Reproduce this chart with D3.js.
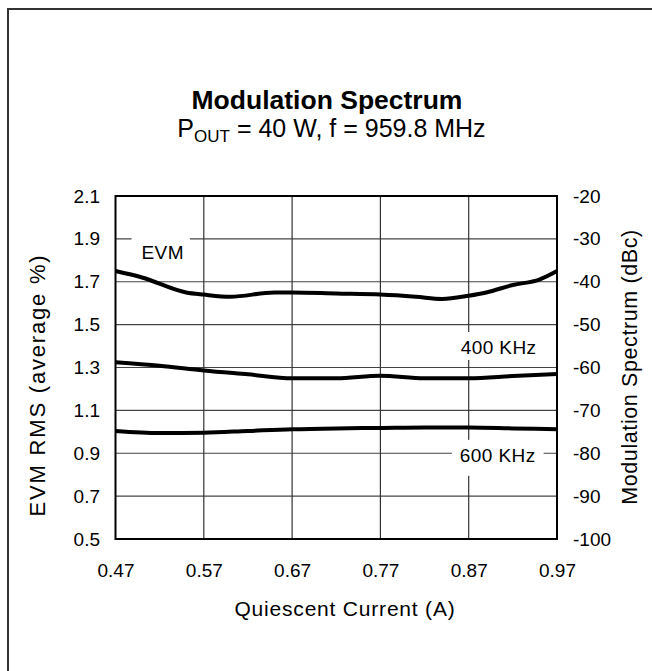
<!DOCTYPE html>
<html>
<head>
<meta charset="utf-8">
<script src="https://cdn.jsdelivr.net/npm/d3@7"></script>
<style>
  body { margin: 0; background: #fff; }
  text { font-family: "Liberation Sans", Arial, sans-serif; fill: #000; }
</style>
</head>
<body>
<script>
// values
var evmCurrent = [0.47, 0.50, 0.55, 0.57, 0.60, 0.65, 0.67, 0.72, 0.77, 0.81, 0.84, 0.87, 0.89, 0.92, 0.95, 0.97];
var evmValues = [1.75, 1.72, 1.65, 1.64, 1.63, 1.65, 1.65, 1.645, 1.64, 1.63, 1.62, 1.635, 1.65, 1.685, 1.71, 1.75];
var specCurrent = [0.47, 0.52, 0.57, 0.62, 0.67, 0.72, 0.77, 0.82, 0.87, 0.92, 0.97];
var spec400 = [-58.8, -59.6, -60.7, -61.6, -62.5, -62.5, -61.9, -62.5, -62.5, -62.0, -61.5];
var spec600 = [-74.8, -75.3, -75.2, -74.8, -74.4, -74.2, -74.1, -74.0, -74.0, -74.2, -74.4];
var xTicks = [0.47, 0.57, 0.67, 0.77, 0.87, 0.97];
var leftTicks = [0.5, 0.7, 0.9, 1.1, 1.3, 1.5, 1.7, 1.9, 2.1];
var rightTicks = [-100, -90, -80, -70, -60, -50, -40, -30, -20];

var width = 652,
    height = 671;

var margin = {top: 196, right: 95, bottom: 132, left: 115.5};

var svg = d3.select("body")
    .append("svg")
    .attr("width", width)
    .attr("height", height);

svg.append("rect")
    .attr("width", width)
    .attr("height", height)
    .attr("fill", "#fff");

// outer frame (right and bottom edges fall outside the picture)
svg.append("rect")
    .attr("x", 8)
    .attr("y", 9)
    .attr("width", 700)
    .attr("height", 700)
    .attr("fill", "none")
    .attr("stroke", "#333")
    .attr("stroke-width", 2);

var x = d3.scaleLinear().domain([0.47, 0.97]).range([margin.left, width - margin.right]);
var yL = d3.scaleLinear().domain([0.5, 2.1]).range([height - margin.bottom, margin.top]);
var yR = d3.scaleLinear().domain([-100, -20]).range([height - margin.bottom, margin.top]);

var g = svg.append("g");

// grid
g.selectAll(".hgrid")
    .data(leftTicks.slice(1, -1))
    .enter().append("line")
    .attr("x1", x.range()[0]).attr("x2", x.range()[1])
    .attr("y1", d => yL(d)).attr("y2", d => yL(d))
    .attr("stroke", "#444")
    .attr("stroke-width", 1.2);

g.selectAll(".vgrid")
    .data(xTicks.slice(1, -1))
    .enter().append("line")
    .attr("x1", d => x(d)).attr("x2", d => x(d))
    .attr("y1", yL.range()[0]).attr("y2", yL.range()[1])
    .attr("stroke", "#333")
    .attr("stroke-width", 1.2);

// labels inside the plot, with the grid cleared behind them
var labels = [
    {text: "EVM", x: 0.4995, v: 1.806, scale: yL, pad: [10, 6, 22, 3]},
    {text: "400 KHz", x: 0.861, v: -56.85, scale: yR, pad: [6, 8, 22, 6]},
    {text: "600 KHz", x: 0.860, v: -82.0, scale: yR, pad: [8, 8, 22, 14]}
];

labels.forEach(function (l) {
    var px = x(l.x), py = l.scale(l.v);
    var t = g.append("text")
        .attr("x", px)
        .attr("y", py)
        .style("font-size", "19px")
        .style("letter-spacing", "0.4px")
        .text(l.text);
    var w = t.node().getComputedTextLength();
    g.insert("rect", "text")
        .attr("x", px - l.pad[0])
        .attr("y", py - l.pad[2])
        .attr("width", w + l.pad[0] + l.pad[1])
        .attr("height", l.pad[2] + l.pad[3])
        .attr("fill", "#fff");
});

// plot border
g.append("rect")
    .attr("x", x.range()[0])
    .attr("y", yL.range()[1])
    .attr("width", x.range()[1] - x.range()[0])
    .attr("height", yL.range()[0] - yL.range()[1])
    .attr("fill", "none")
    .attr("stroke", "#000")
    .attr("stroke-width", 2);

// curves
var line = d3.line().curve(d3.curveMonotoneX);

g.append("path")
    .attr("d", line(evmCurrent.map((c, i) => [x(c), yL(evmValues[i])])))
    .attr("fill", "none").attr("stroke", "#000").attr("stroke-width", 4);

g.append("path")
    .attr("d", line(specCurrent.map((c, i) => [x(c), yR(spec400[i])])))
    .attr("fill", "none").attr("stroke", "#000").attr("stroke-width", 4);

g.append("path")
    .attr("d", line(specCurrent.map((c, i) => [x(c), yR(spec600[i])])))
    .attr("fill", "none").attr("stroke", "#000").attr("stroke-width", 4);

// axes (labels only)
function styleAxis(sel) {
    sel.select(".domain").remove();
    sel.selectAll("line").remove();
    sel.selectAll("text")
        .attr("fill", "#000")
        .style("font-family", '"Liberation Sans", Arial, sans-serif')
        .style("font-size", "19px");
}

svg.append("g")
    .attr("transform", "translate(" + (x.range()[0] - 12.5) + ",0)")
    .call(d3.axisLeft(yL).tickValues(leftTicks).tickFormat(d3.format(".1f")).tickSize(0))
    .call(styleAxis);

svg.append("g")
    .attr("transform", "translate(" + (x.range()[1] + 13) + ",0)")
    .call(d3.axisRight(yR).tickValues(rightTicks).tickFormat(d => String(d)).tickSize(0))
    .call(styleAxis);

svg.append("g")
    .attr("transform", "translate(0," + (yL.range()[0] + 21) + ")")
    .call(d3.axisBottom(x).tickValues(xTicks).tickFormat(d3.format(".2f")).tickSize(0))
    .call(styleAxis);

// titles
svg.append("text")
    .attr("x", 327)
    .attr("y", 109)
    .attr("text-anchor", "middle")
    .style("font-size", "26.5px")
    .style("font-weight", "bold")
    .text("Modulation Spectrum");

var sub = svg.append("text")
    .attr("x", 331.5)
    .attr("y", 137)
    .attr("text-anchor", "middle")
    .style("font-size", "25px");
sub.append("tspan").text("P");
sub.append("tspan").attr("dy", 5).style("font-size", "17px").text("OUT");
sub.append("tspan").attr("dy", -5).text(" = 40 W, f = 959.8 MHz");

svg.append("text")
    .attr("x", 345)
    .attr("y", 616)
    .attr("text-anchor", "middle")
    .style("font-size", "21px")
    .style("letter-spacing", "0.8px")
    .text("Quiescent Current (A)");

svg.append("text")
    .attr("transform", "translate(45,385) rotate(-90)")
    .attr("text-anchor", "middle")
    .style("font-size", "22px")
    .style("letter-spacing", "1.8px")
    .text("EVM RMS (average %)");

svg.append("text")
    .attr("transform", "translate(637,367) rotate(-90)")
    .attr("text-anchor", "middle")
    .style("font-size", "21.5px")
    .style("letter-spacing", "0.6px")
    .text("Modulation Spectrum (dBc)");
</script>
</body>
</html>
